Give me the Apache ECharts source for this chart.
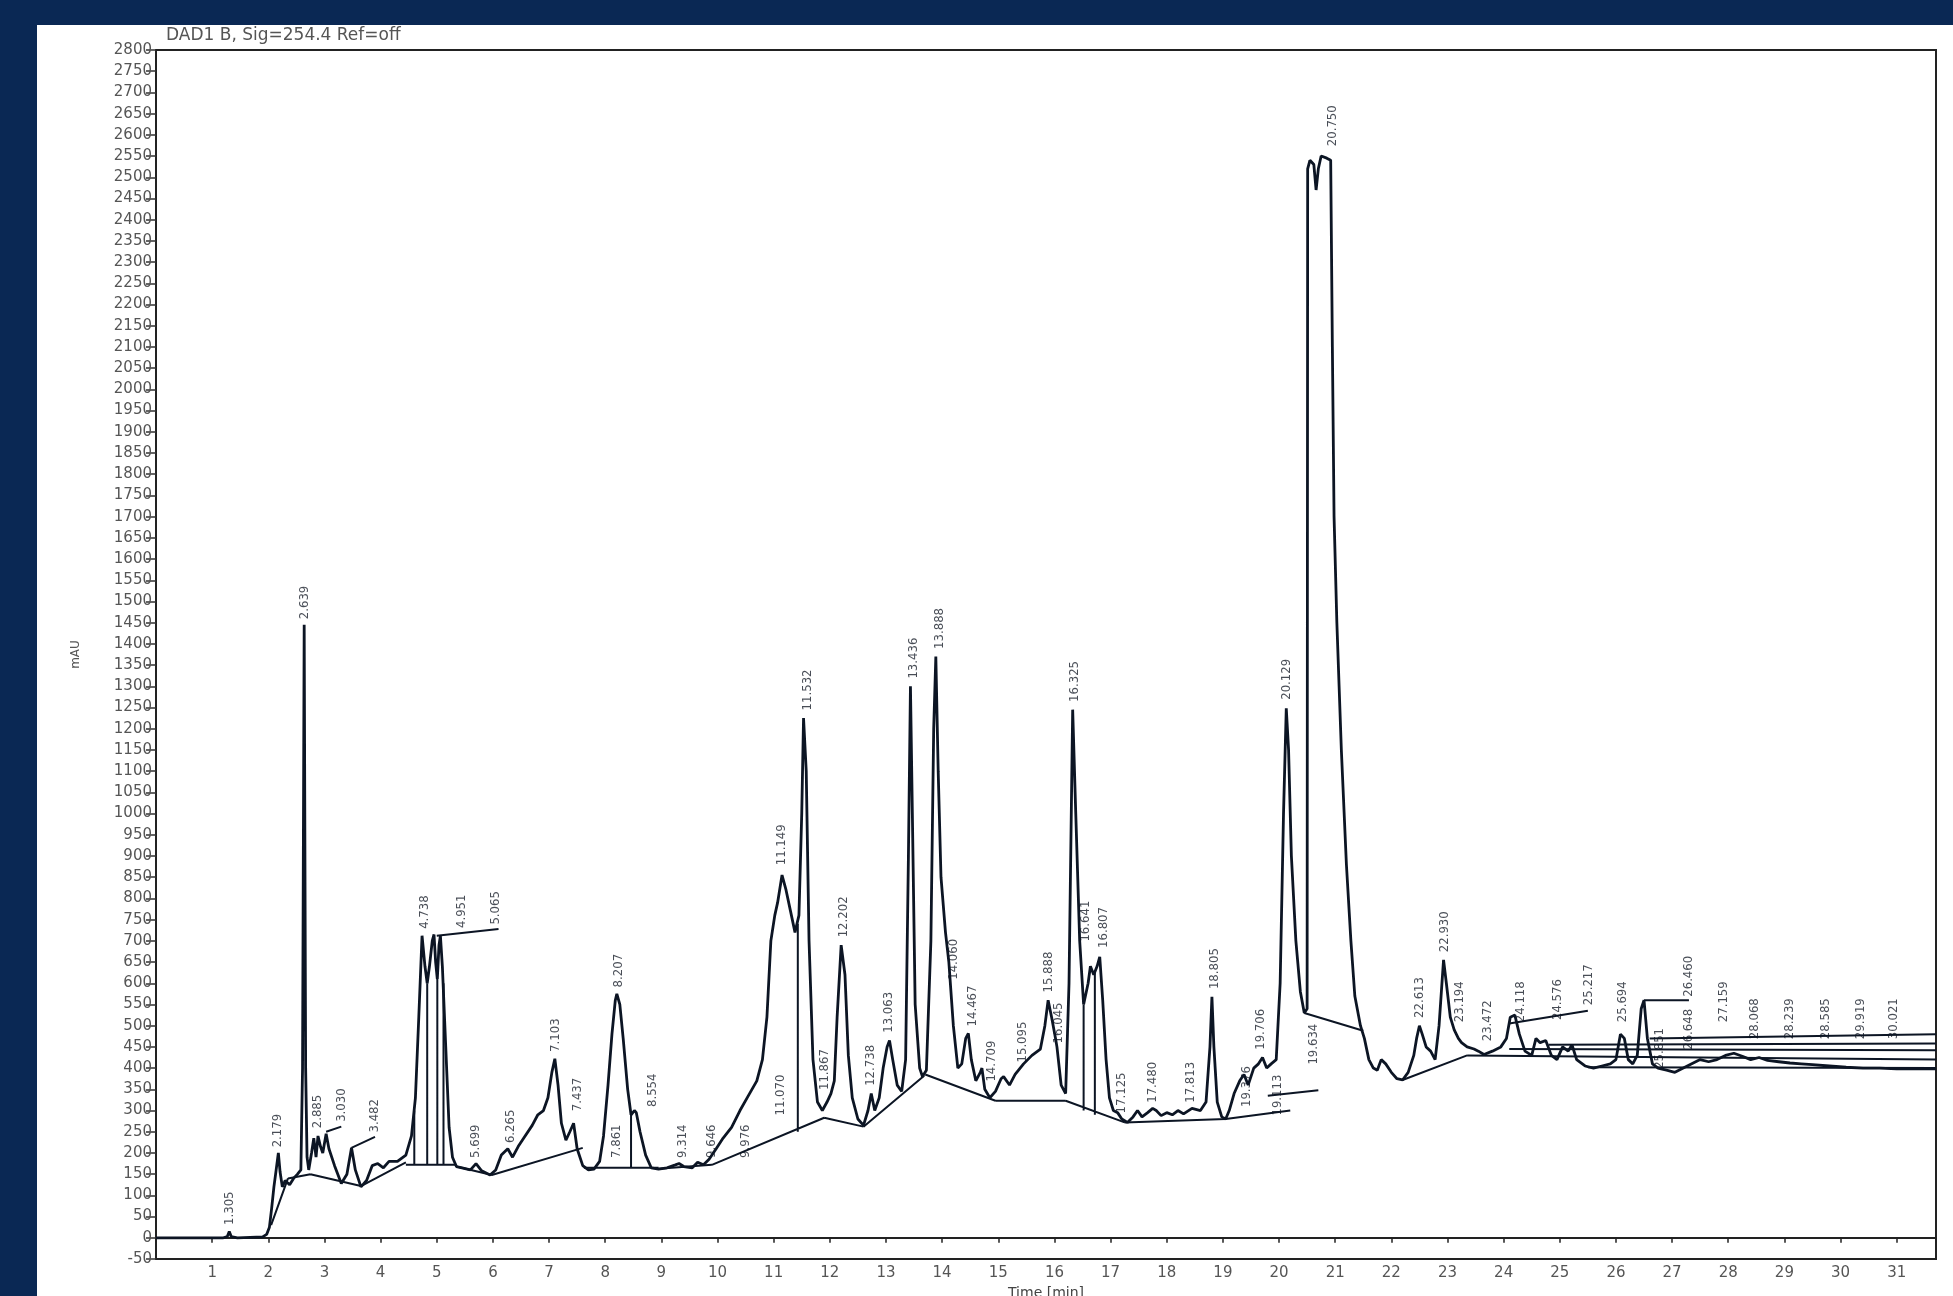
<!DOCTYPE html>
<html>
<head>
<meta charset="utf-8">
<script src="https://cdn.jsdelivr.net/npm/echarts@6/dist/echarts.min.js"></script>
<style>
  html, body { margin: 0; padding: 0; background: #0a2854; width: 1953px; height: 1296px; overflow: hidden; }
  #panel { position: absolute; left: 37px; top: 25px; right: 0; bottom: 0; background: #fff; }
  #chart { position: absolute; left: 0; top: 0; width: 1953px; height: 1296px; }
</style>
</head>
<body>
<div id="panel"></div>
<div id="chart"></div>
<script>
// signal trace (time in min, mAU)
const traceTime = [
  0, 1.2, 1.27, 1.305, 1.34, 1.45, 1.9, 1.97, 2.02, 2.06, 2.1, 2.14, 2.179, 2.21, 2.25, 2.3, 2.38, 2.45, 2.52, 2.58,
  2.61, 2.639, 2.665, 2.69, 2.72, 2.77, 2.81, 2.85, 2.885, 2.93, 2.97, 3.03, 3.08, 3.18, 3.3, 3.4, 3.482, 3.55, 3.65, 3.75,
  3.85, 3.95, 4.05, 4.15, 4.3, 4.45, 4.55, 4.62, 4.68, 4.738, 4.79, 4.83, 4.87, 4.92, 4.951, 4.98, 5.01, 5.04, 5.065, 5.1,
  5.16, 5.22, 5.28, 5.35, 5.45, 5.6, 5.699, 5.8, 5.95, 6.05, 6.15, 6.265, 6.35, 6.45, 6.55, 6.7, 6.8, 6.9, 6.98, 7.05,
  7.103, 7.16, 7.22, 7.3, 7.37, 7.437, 7.5, 7.6, 7.7, 7.8, 7.9, 7.97, 8.05, 8.12, 8.18, 8.207, 8.26, 8.32, 8.4, 8.46,
  8.52, 8.554, 8.62, 8.72, 8.82, 8.95, 9.1, 9.25, 9.314, 9.4, 9.55, 9.646, 9.75, 9.85, 9.976, 10.1, 10.25, 10.4, 10.55, 10.7,
  10.8, 10.88, 10.95, 11.02, 11.07, 11.149, 11.22, 11.3, 11.38, 11.45, 11.5, 11.532, 11.58, 11.63, 11.7, 11.78, 11.867, 11.95, 12.02, 12.08,
  12.13, 12.202, 12.27, 12.33, 12.4, 12.5, 12.6, 12.68, 12.738, 12.8, 12.88, 12.95, 13.02, 13.063, 13.12, 13.2, 13.28, 13.35, 13.4, 13.436,
  13.47, 13.52, 13.6, 13.65, 13.72, 13.8, 13.85, 13.888, 13.93, 13.98, 14.06, 14.12, 14.2, 14.28, 14.35, 14.42, 14.467, 14.52, 14.6, 14.68,
  14.709, 14.76, 14.85, 14.95, 15.05, 15.095, 15.2, 15.3, 15.45, 15.6, 15.75, 15.83, 15.888, 15.95, 16.02, 16.045, 16.12, 16.2, 16.26, 16.325,
  16.38, 16.45, 16.52, 16.6, 16.641, 16.7, 16.76, 16.807, 16.86, 16.92, 16.98, 17.05, 17.125, 17.2, 17.3, 17.4, 17.48, 17.56, 17.66, 17.75,
  17.813, 17.9, 18.0, 18.1, 18.2, 18.3, 18.45, 18.6, 18.7, 18.77, 18.805, 18.84, 18.9, 18.98, 19.05, 19.113, 19.2, 19.3, 19.376, 19.45,
  19.55, 19.634, 19.706, 19.78, 19.86, 19.95, 20.02, 20.08, 20.129, 20.17, 20.22, 20.3, 20.38, 20.45, 20.5, 20.51, 20.55, 20.62, 20.66, 20.7,
  20.75, 20.85, 20.92, 20.95, 20.98, 21.03, 21.11, 21.2, 21.28, 21.35, 21.45, 21.52, 21.6, 21.68, 21.75, 21.82, 21.9, 22.0, 22.1, 22.2,
  22.3, 22.4, 22.45, 22.5, 22.55, 22.62, 22.7, 22.78, 22.85, 22.93, 22.98, 23.05, 23.12, 23.194, 23.25, 23.35, 23.472, 23.55, 23.65, 23.8,
  23.95, 24.05, 24.118, 24.2, 24.28, 24.38, 24.5, 24.576, 24.65, 24.75, 24.85, 24.95, 25.05, 25.15, 25.217, 25.3, 25.45, 25.6, 25.75, 25.9,
  26.0, 26.08, 26.15, 26.22, 26.3, 26.38, 26.45, 26.5, 26.56, 26.65, 26.75, 26.9, 27.05, 27.2, 27.35, 27.5, 27.65, 27.8, 27.95, 28.1,
  28.25, 28.4, 28.55, 28.7, 28.9, 29.1, 29.3, 29.5, 29.8, 30.1, 30.4, 30.7, 31.0, 31.3, 31.7
];
const traceSignal = [
  0, 0, 3, 15, 3, 0, 2, 8, 25, 70, 120, 160, 200, 155, 120, 135, 125, 140, 150, 160,
  400, 1445, 400, 190, 160, 200, 235, 190, 240, 215, 200, 245, 210, 170, 128, 150, 212, 160, 120, 135,
  170, 175, 165, 180, 180, 195, 240, 330, 520, 712, 640, 600, 640, 700, 715, 650, 610, 690, 712, 640,
  450, 260, 190, 168, 165, 160, 175, 158, 148, 160, 195, 210, 190, 215, 235, 265, 290, 300, 330, 390,
  422, 360, 270, 230, 250, 270, 210, 170, 160, 162, 180, 240, 360, 480, 560, 575, 550, 470, 350, 290,
  300, 295, 250, 195, 165, 162, 165, 172, 175, 168, 165, 178, 172, 185, 210, 235, 260, 300, 335, 370,
  420, 520, 700, 760, 790, 855, 820, 770, 720, 760, 1000, 1225, 1100, 700, 420, 320, 300, 320, 340, 370,
  520, 690, 620, 430, 330, 280, 265, 300, 340, 300, 330, 400, 450, 465, 420, 360, 345, 420, 900, 1300,
  1000, 550, 400, 380, 395, 700, 1200, 1370, 1100, 850, 720, 650, 500, 400, 410, 470, 482, 420, 370, 390,
  400, 350, 330, 345, 375, 380, 360, 385, 410, 430, 445, 500, 560, 520, 470, 450, 360, 340, 600, 1245,
  1000, 700, 550, 600, 640, 620, 640, 662, 560, 420, 330, 300, 295, 280, 272, 285, 300, 285, 295, 305,
  300, 288, 295, 290, 300, 292, 305, 300, 320, 450, 568, 450, 320, 285, 280, 300, 340, 370, 385, 360,
  400, 410, 425, 400, 410, 420, 600, 1000, 1248, 1150, 900, 700, 580, 530, 540, 2520, 2540, 2530, 2470, 2520,
  2550, 2545, 2540, 2100, 1700, 1450, 1150, 880, 700, 570, 500, 470, 420, 400, 395, 420, 410, 390, 375, 372,
  390, 430, 470, 500, 480, 450, 440, 420, 500, 655, 600, 520, 490, 470, 460, 450, 445, 440, 432, 440,
  450, 470, 520, 525, 480, 440, 430, 470, 460, 465, 430, 420, 450, 440, 455, 420, 405, 400, 405, 410,
  420, 480, 470, 420, 410, 430, 540, 560, 470, 410, 400, 395, 390, 400, 410, 420, 415, 420, 430, 435,
  428, 420, 425, 418, 415, 412, 410, 408, 405, 402, 400, 400, 398, 398, 398
];

// peak retention-time labels and where they sit
const peakText = [
  '1.305', '2.179', '2.639', '2.885', '3.030', '3.482', '4.738', '4.951', '5.065', '5.699', '6.265',
  '7.103', '7.437', '7.861', '8.207', '8.554', '9.314', '9.646', '9.976', '11.070', '11.149', '11.532',
  '11.867', '12.202', '12.738', '13.063', '13.436', '13.888', '14.060', '14.467', '14.709', '15.095',
  '15.888', '16.045', '16.325', '16.641', '16.807', '17.125', '17.480', '17.813', '18.805', '19.113',
  '19.376', '19.706', '19.634', '20.129', '20.750', '22.613', '22.930', '23.194', '23.472', '24.118',
  '24.576', '25.217', '25.694', '25.851', '26.460', '26.648', '27.159', '28.068', '28.239', '28.585',
  '29.919', '30.021'
];
const peakLabelTime = [
  1.31, 2.17, 2.64, 2.88, 3.3, 3.9, 4.78, 5.45, 6.05, 5.7, 6.32,
  7.12, 7.5, 8.2, 8.24, 8.85, 9.38, 9.9, 10.5, 11.12, 11.15, 11.6,
  11.9, 12.24, 12.72, 13.05, 13.5, 13.95, 14.2, 14.55, 14.88, 15.43,
  15.9, 16.08, 16.36, 16.55, 16.87, 17.2, 17.75, 18.43, 18.86, 19.98,
  19.42, 19.68, 20.62, 20.14, 20.95, 22.5, 22.95, 23.22, 23.72, 24.3,
  24.97, 25.52, 26.12, 26.78, 27.3, 27.3, 27.92, 28.47, 29.1, 29.73,
  30.35, 30.95
];
const peakLabelSignal = [
  22, 205, 1450, 250, 265, 240, 720, 722, 730, 180, 215,
  430, 290, 180, 582, 300, 180, 180, 180, 280, 870, 1235,
  340, 700, 350, 475, 1310, 1380, 600, 490, 360, 405,
  570, 450, 1255, 690, 675, 285, 310, 310, 578, 280,
  300, 435, 400, 1260, 2565, 510, 665, 500, 455, 500,
  505, 540, 500, 390, 560, 435, 500, 460, 460, 460,
  460, 460
];

// integration baselines, label leaders and drop lines
const segStartTime = [
  2.05, 2.35, 2.75, 3.65, 4.45, 5.35, 5.98, 7.62, 8.95, 9.9, 11.9, 12.6, 13.7, 14.95, 16.2, 17.25, 19.05, 19.8,
  20.45, 22.2, 23.35, 24.1, 24.8, 25.5,
  3.03, 3.48, 5.0, 24.1, 26.5, 26.6,
  4.6, 4.83, 5.01, 5.12, 8.46, 11.43, 16.52, 16.72
];
const segStartSignal = [
  30, 140, 150, 122, 172, 168, 148, 165, 163, 172, 283, 262, 385, 323, 323, 272, 280, 335,
  530, 372, 430, 445, 455, 402,
  250, 212, 712, 505, 560, 470,
  300, 600, 610, 600, 290, 740, 550, 625
];
const segEndTime = [
  2.35, 2.75, 3.65, 4.45, 5.35, 5.98, 7.6, 8.95, 9.9, 11.9, 12.6, 13.68, 14.95, 16.2, 17.25, 19.05, 20.2, 20.7,
  21.5, 23.35, 31.7, 31.7, 31.7, 31.7,
  3.3, 3.9, 6.1, 25.5, 27.3, 31.7,
  4.6, 4.83, 5.01, 5.12, 8.46, 11.43, 16.52, 16.72
];
const segEndSignal = [
  140, 150, 122, 178, 172, 148, 212, 165, 172, 283, 262, 382, 323, 323, 272, 280, 300, 348,
  488, 430, 420, 442, 458, 400,
  262, 238, 728, 535, 560, 480,
  172, 172, 172, 172, 165, 250, 300, 290
];

const traceData = traceTime.map((t, i) => [t, traceSignal[i]]);
const labelData = peakLabelTime.map((t, i) => [t, peakLabelSignal[i]]);
const segData = [];
segStartTime.forEach((t, i) => {
  segData.push([t, segStartSignal[i]]);
  segData.push([segEndTime[i], segEndSignal[i]]);
  segData.push(['-', '-']);
});

const ink = '#0c1524';
const chart = echarts.init(document.getElementById('chart'));

chart.setOption({
  animation: false,
  backgroundColor: 'transparent',
  title: {
    text: 'DAD1 B, Sig=254.4 Ref=off',
    left: 166,
    top: 27,
    padding: 0,
    textStyle: { color: '#555', fontSize: 17, fontWeight: 'normal', fontFamily: 'DejaVu Sans' }
  },
  grid: {
    left: 156, right: 17, top: 50, bottom: 37,
    show: true, borderColor: '#222', borderWidth: 2,
    outerBoundsMode: 'none'
  },
  xAxis: {
    type: 'value',
    min: 0, max: 31.7, interval: 1,
    name: 'Time [min]',
    nameLocation: 'middle',
    nameGap: 22,
    nameTextStyle: { color: '#444', fontSize: 14, fontFamily: 'DejaVu Sans' },
    axisLine: { lineStyle: { color: '#222', width: 2 } },
    axisTick: { lineStyle: { color: '#222', width: 1.5 }, length: 5 },
    axisLabel: {
      color: '#555', fontSize: 15, fontFamily: 'DejaVu Sans', margin: 7,
      formatter: v => (v > 0 && Number.isInteger(v)) ? String(v) : ''
    },
    splitLine: { show: false }
  },
  yAxis: {
    type: 'value',
    min: -50, max: 2800, interval: 50,
    name: 'mAU',
    nameLocation: 'middle',
    nameRotate: 90,
    nameGap: 74,
    nameTextStyle: { color: '#555', fontSize: 12, fontFamily: 'DejaVu Sans' },
    axisLine: { lineStyle: { color: '#222', width: 2 } },
    axisTick: { lineStyle: { color: '#333', width: 1.5 }, length: 10 },
    axisLabel: {
      color: '#555', fontSize: 15, fontFamily: 'DejaVu Sans', margin: 4,
      formatter: v => String(v)
    },
    splitLine: { show: false }
  },
  series: [
    {
      name: 'baselines',
      type: 'line',
      data: segData,
      connectNulls: false,
      showSymbol: false,
      silent: true,
      lineStyle: { color: ink, width: 2 }
    },
    {
      name: 'signal',
      type: 'line',
      data: traceData,
      showSymbol: false,
      silent: true,
      lineStyle: { color: ink, width: 2.8 }
    },
    {
      name: 'peaks',
      type: 'scatter',
      data: labelData,
      symbolSize: 1,
      itemStyle: { color: 'rgba(0,0,0,0)' },
      silent: true,
      label: {
        show: true,
        position: 'top',
        distance: 3,
        rotate: 90,
        align: 'left',
        verticalAlign: 'middle',
        fontSize: 13,
        color: '#1a202c',
        fontFamily: "'Liberation Sans Narrow', 'DejaVu Sans Condensed', 'Liberation Sans', sans-serif",
        formatter: p => peakText[p.dataIndex]
      }
    }
  ]
});
</script>
</body>
</html>
